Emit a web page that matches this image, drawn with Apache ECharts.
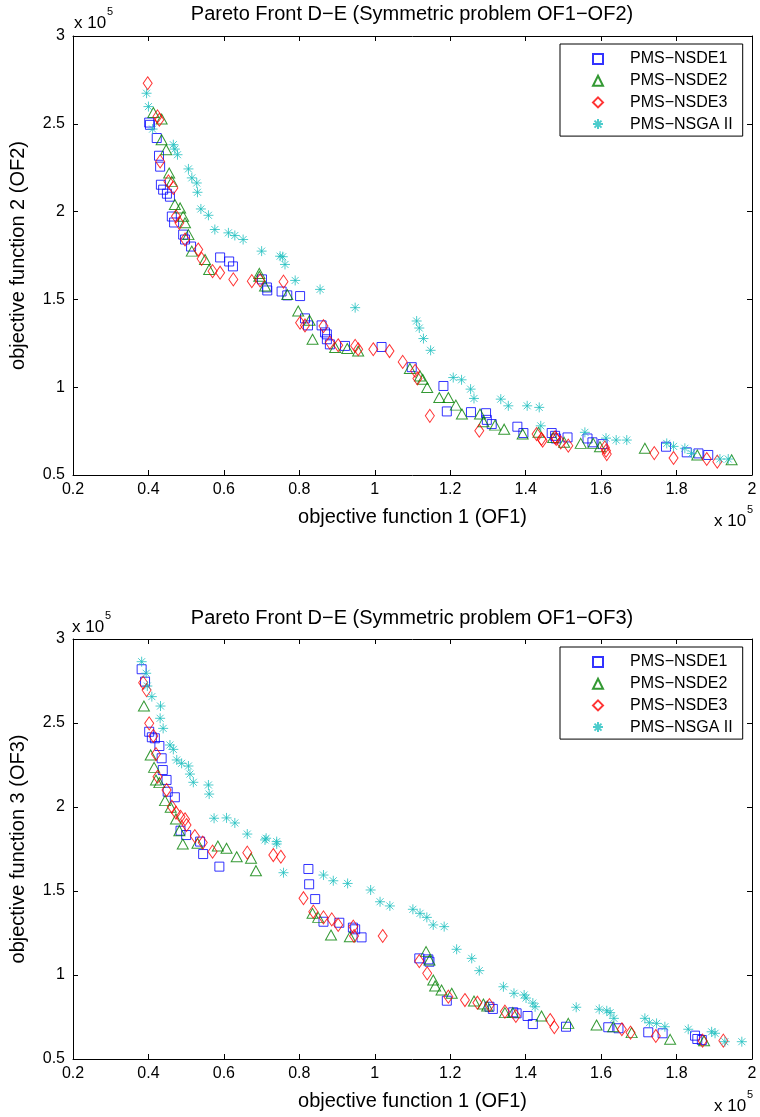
<!DOCTYPE html>
<html>
<head>
<meta charset="utf-8">
<script src="https://cdn.jsdelivr.net/npm/echarts@6/dist/echarts.min.js"></script>
<style>
  html, body { margin: 0; padding: 0; background: #fff; }
  #main { width: 760px; height: 1117px; }
</style>
</head>
<body>
<div id="main"></div>
<script>
// values are in units of 1e5 (as on the axes)
var seriesNames = ['PMS\u2212NSDE1', 'PMS\u2212NSDE2', 'PMS\u2212NSDE3', 'PMS\u2212NSGA II'];

// OF1 vs OF2
var nsde1_of12 = [[0.402,2.507],[0.404,2.494],[0.422,2.419],[0.428,2.318],[0.431,2.256],[0.433,2.153],[0.439,2.125],[0.449,2.102],[0.457,2.085],[0.462,1.972],[0.468,1.938],[0.492,1.869],[0.497,1.841],[0.513,1.801],[0.590,1.739],[0.614,1.716],[0.624,1.688],[0.701,1.614],[0.714,1.568],[0.715,1.551],[0.753,1.545],[0.768,1.523],[0.802,1.519],[0.815,1.392],[0.823,1.352],[0.859,1.352],[0.868,1.312],[0.873,1.301],[0.873,1.273],[0.881,1.244],[0.921,1.235],[1.018,1.229],[1.098,1.114],[1.182,1.007],[1.191,0.862],[1.255,0.858],[1.295,0.852],[1.297,0.814],[1.310,0.790],[1.378,0.775],[1.394,0.739],[1.469,0.739],[1.478,0.723],[1.480,0.708],[1.511,0.714],[1.564,0.708],[1.577,0.686],[1.604,0.676],[1.772,0.661],[1.827,0.629],[1.858,0.623],[1.884,0.614]];
var nsde2_of12 = [[0.413,2.564],[0.435,2.527],[0.435,2.409],[0.447,2.352],[0.455,2.220],[0.462,2.172],[0.470,2.040],[0.484,2.021],[0.492,1.973],[0.497,1.936],[0.506,1.869],[0.515,1.775],[0.550,1.727],[0.561,1.670],[0.694,1.648],[0.709,1.576],[0.694,1.632],[0.768,1.528],[0.797,1.434],[0.827,1.381],[0.835,1.273],[0.895,1.226],[0.927,1.220],[0.956,1.206],[1.093,1.106],[1.120,1.064],[1.127,1.045],[1.139,0.998],[1.171,0.941],[1.195,0.941],[1.215,0.898],[1.231,0.847],[1.279,0.847],[1.288,0.803],[1.319,0.784],[1.343,0.761],[1.392,0.733],[1.434,0.743],[1.473,0.714],[1.502,0.686],[1.546,0.680],[1.579,0.680],[1.597,0.661],[1.716,0.652],[1.855,0.614],[1.946,0.587]];
var nsde3_of12 = [[0.398,2.731],[0.424,2.542],[0.429,2.523],[0.431,2.286],[0.453,2.172],[0.466,2.135],[0.473,1.973],[0.482,1.936],[0.497,1.841],[0.532,1.784],[0.541,1.731],[0.570,1.661],[0.590,1.652],[0.625,1.614],[0.674,1.604],[0.696,1.608],[0.758,1.601],[0.802,1.367],[0.815,1.352],[0.864,1.348],[0.881,1.254],[0.903,1.239],[0.948,1.235],[0.956,1.216],[0.996,1.216],[1.039,1.206],[1.074,1.144],[1.107,1.093],[1.113,1.050],[1.146,0.837],[1.277,0.752],[1.429,0.733],[1.442,0.705],[1.478,0.714],[1.445,0.695],[1.481,0.705],[1.493,0.686],[1.513,0.667],[1.610,0.657],[1.613,0.638],[1.615,0.619],[1.741,0.625],[1.792,0.597],[1.880,0.591],[1.908,0.576]];
var nsga2_of12 = [[0.395,2.674],[0.400,2.598],[0.411,2.470],[0.466,2.381],[0.470,2.356],[0.477,2.324],[0.506,2.243],[0.515,2.192],[0.528,2.163],[0.530,2.110],[0.539,2.015],[0.559,1.979],[0.576,1.898],[0.612,1.879],[0.629,1.864],[0.651,1.841],[0.700,1.775],[0.749,1.746],[0.756,1.743],[0.762,1.699],[0.789,1.608],[0.855,1.557],[0.948,1.453],[1.111,1.377],[1.118,1.337],[1.129,1.277],[1.148,1.210],[1.208,1.055],[1.230,1.042],[1.254,0.989],[1.263,0.936],[1.334,0.932],[1.354,0.894],[1.404,0.894],[1.436,0.885],[1.440,0.780],[1.557,0.743],[1.613,0.710],[1.640,0.699],[1.668,0.699],[1.774,0.680],[1.792,0.663],[1.822,0.652],[1.840,0.623],[1.915,0.591],[1.937,0.591]];

// OF1 vs OF3
var nsde1_of13 = [[0.382,2.820],[0.391,2.746],[0.402,2.448],[0.409,2.415],[0.417,2.409],[0.429,2.363],[0.435,2.290],[0.438,2.220],[0.448,2.161],[0.451,2.091],[0.470,2.058],[0.485,1.859],[0.500,1.833],[0.537,1.794],[0.545,1.720],[0.588,1.645],[0.824,1.631],[0.826,1.540],[0.842,1.452],[0.864,1.317],[0.906,1.311],[0.942,1.282],[0.948,1.272],[0.965,1.224],[1.118,1.099],[1.142,1.093],[1.145,1.079],[1.191,0.847],[1.304,0.811],[1.313,0.798],[1.367,0.778],[1.376,0.772],[1.405,0.756],[1.419,0.708],[1.507,0.692],[1.619,0.689],[1.646,0.683],[1.725,0.659],[1.763,0.653],[1.849,0.639],[1.855,0.619],[1.867,0.613]];
var nsde2_of13 = [[0.388,2.601],[0.406,2.310],[0.415,2.236],[0.420,2.161],[0.429,2.145],[0.444,2.038],[0.459,1.998],[0.473,1.929],[0.482,1.859],[0.491,1.780],[0.530,1.784],[0.584,1.768],[0.607,1.754],[0.634,1.704],[0.672,1.695],[0.685,1.621],[0.835,1.367],[0.850,1.343],[0.884,1.238],[0.934,1.228],[1.136,1.139],[1.145,1.089],[1.155,0.970],[1.160,0.935],[1.177,0.911],[1.204,0.891],[1.263,0.845],[1.288,0.827],[1.298,0.815],[1.345,0.776],[1.366,0.776],[1.442,0.756],[1.513,0.712],[1.588,0.702],[1.632,0.692],[1.681,0.657],[1.783,0.617],[1.873,0.609]];
var nsde3_of13 = [[0.386,2.740],[0.395,2.696],[0.402,2.498],[0.413,2.423],[0.420,2.315],[0.424,2.180],[0.448,2.101],[0.462,2.002],[0.473,1.966],[0.485,1.942],[0.497,1.927],[0.501,1.893],[0.523,1.827],[0.544,1.788],[0.570,1.734],[0.662,1.728],[0.731,1.714],[0.751,1.704],[0.811,1.457],[0.837,1.377],[0.864,1.343],[0.886,1.331],[0.903,1.298],[0.943,1.288],[0.945,1.232],[1.021,1.232],[1.118,1.083],[1.139,1.010],[1.195,0.871],[1.239,0.851],[1.272,0.835],[1.304,0.821],[1.345,0.782],[1.374,0.756],[1.465,0.732],[1.476,0.689],[1.655,0.677],[1.678,0.657],[1.745,0.637],[1.869,0.609],[1.924,0.609]];
var nsga2_of13 = [[0.382,2.865],[0.394,2.796],[0.397,2.720],[0.409,2.657],[0.432,2.601],[0.431,2.528],[0.439,2.468],[0.457,2.369],[0.466,2.343],[0.475,2.280],[0.488,2.260],[0.506,2.244],[0.510,2.196],[0.519,2.147],[0.559,2.131],[0.561,2.077],[0.574,1.933],[0.607,1.935],[0.629,1.905],[0.662,1.839],[0.712,1.814],[0.740,1.794],[0.709,1.804],[0.740,1.780],[0.758,1.609],[0.864,1.595],[0.890,1.561],[0.928,1.545],[0.989,1.506],[1.014,1.436],[1.040,1.411],[1.101,1.391],[1.120,1.367],[1.138,1.343],[1.155,1.298],[1.184,1.288],[1.217,1.153],[1.257,1.099],[1.277,1.026],[1.341,0.930],[1.369,0.891],[1.396,0.881],[1.401,0.863],[1.419,0.833],[1.425,0.811],[1.534,0.808],[1.595,0.796],[1.615,0.787],[1.624,0.776],[1.634,0.742],[1.716,0.742],[1.728,0.716],[1.747,0.712],[1.769,0.692],[1.831,0.677],[1.893,0.662],[1.902,0.653],[1.928,0.603],[1.973,0.603]];

var FONT = 'Liberation Sans, Arial, Helvetica, sans-serif';
var STAR = 'path://M5,0L5,10M0,5L10,5M1.5,1.5L8.5,8.5M1.5,8.5L8.5,1.5';

var myChart = echarts.init(document.getElementById('main'));

function mkSeries(name, data, g, symbol, size, col) {
    return {
        type: 'scatter', name: name, data: data,
        xAxisIndex: g * 2, yAxisIndex: g * 2,
        symbol: symbol, symbolSize: size,
        itemStyle: { color: 'rgba(0,0,0,0)', borderColor: col, borderWidth: 1 },
        emphasis: { disabled: true }
    };
}

function xAx(g, top, name) {
    return {
        gridIndex: g, type: 'value', min: 0.2, max: 2, interval: 0.2,
        position: top ? 'top' : 'bottom',
        axisLine: { onZero: false, lineStyle: { color: '#000', width: 1 } },
        axisTick: { inside: true, length: 5, lineStyle: { color: '#000' } },
        axisLabel: { show: !top, color: '#000', fontSize: 16, fontFamily: FONT, margin: 7,
            formatter: function (v) { return String(+v.toFixed(1)); } },
        splitLine: { show: false },
        name: top ? '' : name, nameLocation: 'middle', nameGap: 32,
        nameTextStyle: { fontSize: 20, color: '#000', fontFamily: FONT }
    };
}

function yAx(g, right, name) {
    return {
        gridIndex: g, type: 'value', min: 0.5, max: 3, interval: 0.5,
        position: right ? 'right' : 'left',
        axisLine: { onZero: false, lineStyle: { color: '#000', width: 1 } },
        axisTick: { inside: true, length: 5, lineStyle: { color: '#000' } },
        axisLabel: { show: !right, color: '#000', fontSize: 16, fontFamily: FONT, margin: 8,
            formatter: function (v) { return String(+v.toFixed(1)); } },
        splitLine: { show: false },
        name: right ? '' : name, nameLocation: 'middle', nameGap: 45, nameRotate: 90,
        nameTextStyle: { fontSize: 20, color: '#000', fontFamily: FONT }
    };
}

function legendAt(top) {
    return {
        left: 560, top: top, orient: 'vertical', data: seriesNames,
        backgroundColor: '#fff', borderColor: '#000', borderWidth: 1,
        padding: [7, 10, 4, 32], itemGap: 5.7, itemWidth: 10, itemHeight: 10,
        selectedMode: false,
        textStyle: { fontSize: 16, lineHeight: 16, color: '#000', fontFamily: FONT, padding: [0, 0, 0, 22] }
    };
}

function txt(x, y, s, size, align) {
    return { type: 'text', x: x, y: y, silent: true,
        style: { text: s, fontSize: size, fontFamily: FONT, fill: '#000', align: align || 'left', verticalAlign: 'middle' } };
}

var option = {
    animation: false,
    backgroundColor: '#fff',
    grid: [
        { left: 73, top: 36, width: 679, height: 439 },
        { left: 73, top: 639, width: 679, height: 420 }
    ],
    xAxis: [
        xAx(0, false, 'objective function 1 (OF1)'), xAx(0, true),
        xAx(1, false, 'objective function 1 (OF1)'), xAx(1, true)
    ],
    yAxis: [
        yAx(0, false, 'objective function 2 (OF2)'), yAx(0, true),
        yAx(1, false, 'objective function 3 (OF3)'), yAx(1, true)
    ],
    legend: [legendAt(44), legendAt(647)],
    graphic: [
        txt(412, 14, 'Pareto Front D\u2212E (Symmetric problem OF1\u2212OF2)', 20, 'center'),
        txt(412, 618, 'Pareto Front D\u2212E (Symmetric problem OF1\u2212OF3)', 20, 'center'),
        txt(74, 23, 'x 10', 17), txt(107, 12, '5', 11),
        txt(714, 521, 'x 10', 17), txt(747, 510, '5', 11),
        txt(72, 627, 'x 10', 17), txt(105, 616, '5', 11),
        txt(714, 1106, 'x 10', 17), txt(747, 1095, '5', 11)
    ],
    series: [
        mkSeries(seriesNames[0], nsde1_of12, 0, 'rect', [9, 9], '#0000ff'),
        mkSeries(seriesNames[1], nsde2_of12, 0, 'triangle', [11, 10], '#008000'),
        mkSeries(seriesNames[2], nsde3_of12, 0, 'diamond', [9, 13], '#ff0000'),
        mkSeries(seriesNames[3], nsga2_of12, 0, STAR, [10, 10], '#1fbfbf'),
        mkSeries(seriesNames[0], nsde1_of13, 1, 'rect', [9, 9], '#0000ff'),
        mkSeries(seriesNames[1], nsde2_of13, 1, 'triangle', [11, 10], '#008000'),
        mkSeries(seriesNames[2], nsde3_of13, 1, 'diamond', [9, 13], '#ff0000'),
        mkSeries(seriesNames[3], nsga2_of13, 1, STAR, [10, 10], '#1fbfbf')
    ]
};
myChart.setOption(option);
</script>
</body>
</html>
